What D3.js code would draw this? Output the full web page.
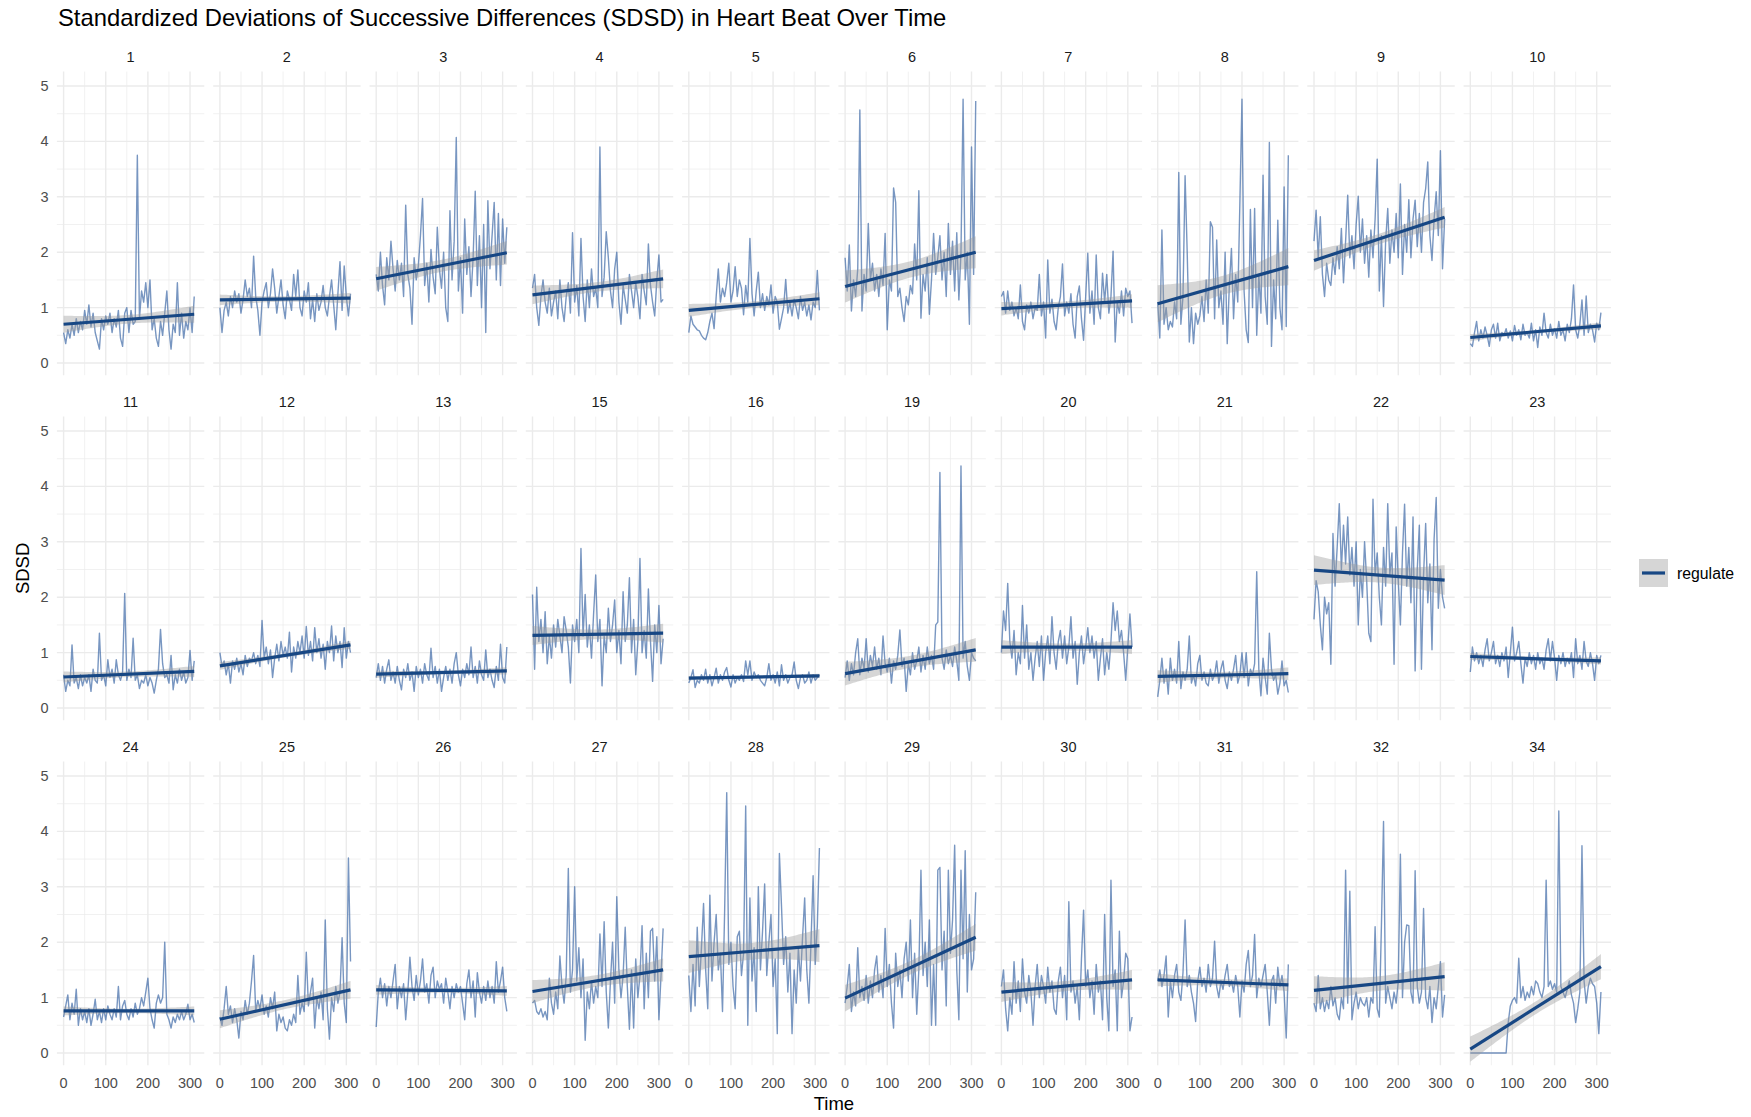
<!DOCTYPE html>
<html>
<head>
<meta charset="utf-8">
<script src="https://cdn.jsdelivr.net/npm/d3@7"></script>
<style>
  body { margin: 0; background: #fff; }
  svg { display: block; }
  text { font-family: "Liberation Sans", Arial, Helvetica, sans-serif; }
</style>
</head>
<body>
<svg id="chart" width="1751" height="1117"></svg>
<script>
// Participants shown as facets, in reading order
const participants = [1, 2, 3, 4, 5, 6, 7, 8, 9, 10, 11, 12, 13, 15, 16, 19, 20, 21, 22, 23, 24, 25, 26, 27, 28, 29, 30, 31, 32, 34];

// Sampling times (s)
const time = [0,5,10,15,20,25,30,35,40,45,50,55,60,65,70,75,80,85,90,95,100,105,110,115,120,125,130,135,140,145,150,155,160,165,170,175,180,185,190,195,200,205,210,215,220,225,230,235,240,245,250,255,260,265,270,275,280,285,290,295,300,305,310];

// SDSD per participant
const sdsd1 = [0.55,0.35,0.6,0.45,0.7,0.5,0.8,0.55,0.75,0.6,0.95,0.7,1.05,0.65,0.9,0.55,0.4,0.25,0.8,0.6,0.85,0.7,0.9,0.55,0.8,0.65,0.95,0.45,0.3,0.9,1.0,0.55,0.95,0.7,0.75,3.75,0.8,1.3,1.1,1.45,1.0,1.5,0.6,0.8,0.45,0.3,0.75,0.5,0.9,1.3,0.6,0.25,0.7,0.55,1.45,0.5,0.9,0.45,0.75,0.6,1.0,0.55,1.2];
const sdsd2 = [1.0,0.55,0.95,1.1,0.85,1.2,1.0,1.3,1.1,1.25,0.9,1.15,1.5,1.2,1.35,1.0,1.93,1.2,0.95,0.5,1.1,1.3,1.45,1.0,1.25,1.7,1.35,0.9,1.2,1.5,1.05,0.8,1.3,1.15,0.95,1.6,1.2,1.68,1.0,0.85,1.3,1.1,1.45,0.8,1.15,0.75,1.25,0.95,1.1,1.4,1.0,0.85,1.2,1.5,1.05,0.6,1.25,1.83,0.95,1.75,1.2,0.85,1.25];
const sdsd3 = [1.6,1.3,2.0,1.4,1.05,1.9,1.5,2.2,1.7,1.3,1.85,1.5,1.8,1.2,2.85,1.6,1.35,0.7,1.9,1.5,1.75,2.3,2.97,1.4,1.8,1.1,2.05,1.55,1.25,2.45,1.7,1.35,2.0,1.0,0.75,2.75,1.5,2.2,4.07,1.3,1.9,0.9,2.6,1.6,2.1,1.2,1.9,3.1,1.4,2.3,1.0,2.5,0.55,2.93,1.7,2.3,2.9,1.5,2.7,1.4,2.6,1.8,2.45];
const sdsd4 = [1.35,1.6,1.0,0.68,1.2,1.5,1.1,0.9,1.35,0.85,1.1,1.3,0.8,1.5,1.0,0.75,1.2,1.45,0.9,2.35,1.1,1.4,0.85,2.25,1.2,0.75,1.5,1.0,1.7,1.2,1.35,1.0,3.9,1.2,1.55,2.37,1.9,1.3,1.0,1.7,2.0,1.1,0.7,1.4,1.15,0.9,1.6,1.3,1.0,1.45,1.2,0.8,1.6,1.3,1.05,2.15,1.4,1.1,0.85,1.5,1.95,1.1,1.15];
const sdsd5 = [0.55,0.85,0.7,0.65,0.6,0.58,0.5,0.45,0.42,0.55,0.75,0.9,0.62,1.2,1.7,1.1,1.35,1.2,1.45,1.8,1.1,1.3,1.74,1.2,1.5,1.35,0.87,1.4,1.1,2.25,1.25,0.85,1.3,1.64,1.0,1.25,0.95,1.2,1.05,1.41,0.9,1.2,1.1,0.61,0.8,1.0,1.51,0.9,1.1,0.85,1.15,1.0,0.8,1.2,0.95,1.1,0.85,1.05,0.78,1.1,1.0,1.67,0.95];
const sdsd6 = [1.9,1.3,2.13,0.94,1.5,1.2,1.7,4.57,0.94,1.6,1.3,2.52,1.5,1.8,1.3,1.6,1.2,1.7,1.4,2.34,0.6,1.5,1.3,3.16,2.9,1.2,1.35,1.0,0.75,1.2,1.05,1.4,1.25,2.15,1.5,3.11,0.81,1.6,1.3,1.9,0.88,1.5,2.34,1.6,1.9,2.3,1.5,2.0,1.2,2.52,1.6,2.2,1.3,2.35,1.14,2.0,4.76,1.5,2.0,0.7,3.9,1.6,4.73];
const sdsd7 = [1.2,1.29,0.9,1.3,0.95,1.1,0.85,1.0,0.8,1.41,0.75,0.6,1.05,0.9,1.1,0.8,1.0,0.95,1.6,0.85,1.1,0.45,1.86,0.9,1.15,0.75,0.6,1.0,1.2,1.79,0.85,1.1,0.9,1.25,0.7,0.45,1.2,1.39,0.8,0.41,1.2,1.98,0.9,1.3,0.7,1.95,1.0,0.8,1.62,1.1,1.6,0.9,1.2,2.02,0.38,1.1,0.9,1.3,0.85,1.35,1.2,1.3,0.72];
const sdsd8 = [1.1,0.45,2.4,0.7,1.0,0.6,0.75,0.65,1.1,0.8,3.44,0.7,1.2,3.38,2.0,0.38,1.0,0.35,0.9,0.7,0.85,1.2,0.75,1.5,0.9,2.55,2.45,0.8,2.22,1.0,1.3,0.7,2.0,0.35,1.4,2.07,0.8,1.6,1.1,2.88,4.76,1.3,0.6,0.37,2.77,1.0,2.79,0.5,1.6,0.9,3.39,1.2,0.7,3.98,0.3,1.5,0.8,2.58,1.0,0.6,3.18,0.66,3.75];
const sdsd9 = [2.2,2.76,1.9,2.64,1.6,1.2,1.8,1.5,1.4,1.9,1.6,2.1,1.7,2.43,1.45,2.2,3.03,1.9,2.3,1.7,2.5,3.01,2.0,2.6,1.8,2.3,1.55,2.4,1.9,2.6,3.68,1.3,2.3,1.02,2.2,2.79,1.8,2.4,2.0,2.7,1.9,3.23,1.6,2.5,2.0,2.95,1.9,2.6,2.94,2.1,2.7,2.0,2.9,3.15,3.63,2.3,1.85,2.6,3.09,2.3,3.83,1.7,2.6];
const sdsd10 = [0.35,0.3,0.55,0.75,0.4,0.6,0.45,0.65,0.5,0.3,0.6,0.7,0.45,0.72,0.4,0.55,0.5,0.62,0.45,0.58,0.4,0.68,0.5,0.6,0.42,0.7,0.5,0.55,0.45,0.72,0.4,0.6,0.28,0.65,0.5,0.9,0.55,0.45,0.7,0.5,0.62,0.45,0.75,0.5,0.6,0.4,0.7,0.55,0.8,1.41,0.6,0.45,0.7,1.14,0.5,1.21,0.55,0.7,0.6,0.38,0.72,0.6,0.91];
const sdsd11 = [0.6,0.3,0.5,0.4,1.14,0.45,0.55,0.35,0.6,0.4,0.55,0.45,0.6,0.3,0.7,0.5,0.45,1.35,0.5,0.6,0.4,0.87,0.55,0.7,0.45,0.87,0.6,0.5,0.65,2.07,0.5,0.7,0.55,1.26,0.5,0.6,0.35,0.5,0.45,0.6,0.4,0.55,0.45,0.27,0.5,0.7,1.42,0.8,0.55,0.6,0.45,0.95,0.33,0.6,0.45,0.7,0.5,0.65,0.45,0.55,1.04,0.5,0.85];
const sdsd12 = [1.0,0.75,0.85,0.6,0.8,0.45,0.85,0.7,0.9,0.65,0.8,0.6,0.95,0.75,0.9,0.85,1.0,0.8,0.95,0.75,1.58,0.9,1.1,0.8,1.05,0.55,0.9,1.15,0.85,1.2,0.95,1.1,0.9,1.37,0.65,1.1,0.9,1.2,1.0,1.3,0.9,1.47,0.95,1.2,0.85,1.45,1.0,1.25,0.9,1.15,0.7,1.2,1.0,1.48,0.85,1.3,1.0,1.2,0.73,1.45,0.9,1.2,1.0];
const sdsd13 = [0.55,0.8,0.5,0.75,0.45,0.7,0.87,0.5,0.65,0.45,0.75,0.5,0.33,0.7,0.55,0.8,0.5,0.65,0.3,0.75,0.55,0.7,0.45,0.8,0.6,0.5,1.08,0.55,0.75,0.45,0.7,0.3,0.55,0.75,0.5,0.7,0.45,0.8,1.0,0.6,0.4,0.7,0.55,0.8,0.6,1.1,0.55,0.75,0.45,0.85,0.6,0.5,1.05,0.55,0.7,0.5,0.37,0.75,0.5,1.15,0.55,0.45,1.1];
const sdsd15 = [2.05,0.7,2.18,1.2,1.6,1.0,1.74,0.8,1.3,0.9,1.5,1.1,1.6,1.3,1.0,1.65,1.4,1.1,0.45,1.5,1.2,1.6,1.0,2.88,1.3,2.05,1.1,1.5,0.9,1.7,2.4,1.2,1.6,0.4,1.3,1.0,1.8,1.2,1.5,1.95,1.0,1.4,0.8,2.1,1.2,1.5,2.35,1.0,1.6,0.6,1.2,2.7,1.0,1.4,0.9,2.15,1.2,0.48,1.5,1.0,1.85,0.8,1.25];
const sdsd16 = [0.45,0.55,0.69,0.37,0.5,0.45,0.6,0.5,0.7,0.45,0.6,0.4,0.55,0.72,0.45,0.6,0.5,0.65,0.73,0.5,0.38,0.6,0.45,0.55,0.5,0.6,0.48,0.85,0.6,0.85,0.5,0.65,0.55,0.6,0.5,0.45,0.4,0.55,0.8,0.5,0.6,0.45,0.65,0.4,0.78,0.5,0.6,0.45,0.55,0.6,0.83,0.5,0.35,0.55,0.6,0.45,0.5,0.65,0.45,0.6,0.5,0.55,0.6];
const sdsd19 = [0.55,0.85,0.5,0.8,0.6,1.0,1.25,0.6,0.9,0.7,1.25,0.65,0.95,0.75,1.1,0.7,0.9,0.6,1.3,0.8,0.65,0.9,0.45,0.85,0.7,0.95,1.41,0.75,0.9,0.3,0.8,0.6,1.0,0.7,0.85,1.1,0.65,0.95,0.7,1.1,0.8,0.95,0.7,1.5,1.55,4.25,0.9,0.7,1.05,0.8,0.95,0.75,1.1,0.85,0.5,4.37,0.9,1.2,0.75,0.5,1.0,0.9,0.85];
const sdsd20 = [1.0,1.75,1.4,2.25,1.2,0.9,1.4,0.6,1.0,0.8,1.85,0.9,1.5,0.7,1.0,0.5,0.9,1.2,0.75,1.3,0.5,1.0,1.3,0.8,1.65,1.0,0.7,1.2,1.4,0.9,1.3,0.8,1.1,1.65,0.9,1.2,0.43,1.0,1.3,0.8,1.1,1.45,1.0,1.3,0.9,1.2,0.5,0.9,1.25,0.6,1.0,0.7,1.2,1.9,1.4,1.75,1.2,1.4,1.0,0.5,1.1,1.7,1.1];
const sdsd21 = [0.2,0.5,0.9,0.45,0.7,0.25,0.9,0.5,0.7,0.45,1.2,0.35,0.65,0.5,0.7,1.3,0.45,0.6,0.4,0.8,0.95,0.5,0.65,0.45,0.4,0.7,0.5,0.6,0.85,0.45,0.7,0.85,0.5,0.35,0.65,0.5,0.7,0.95,0.45,0.6,1.0,0.55,1.0,0.4,0.7,0.6,0.8,2.46,0.7,0.22,0.9,0.55,0.25,1.35,0.7,0.5,0.6,0.25,0.45,0.85,0.4,0.5,0.28];
const sdsd22 = [1.6,2.3,2.1,1.5,1.05,2.0,1.7,1.9,0.79,3.15,2.2,2.9,3.69,2.5,3.3,2.6,3.45,2.4,2.9,2.2,3.0,1.5,2.5,2.0,3.0,2.3,1.35,1.2,3.77,2.4,2.8,2.0,1.5,2.9,2.2,3.69,2.4,2.8,0.79,3.27,2.3,1.5,2.8,3.68,2.2,2.9,1.9,3.45,0.67,2.5,3.3,0.7,2.4,3.33,1.9,2.6,1.05,3.05,3.8,1.8,2.5,2.0,1.8];
const sdsd23 = [0.65,1.1,0.85,1.0,0.8,0.95,0.75,1.05,1.25,0.85,1.0,1.2,0.8,0.95,0.75,1.0,0.85,1.1,0.55,1.0,1.46,0.85,1.0,1.2,0.8,0.45,0.9,0.75,1.0,0.8,0.95,0.7,1.0,0.8,0.9,0.7,1.05,1.25,0.85,1.2,0.9,0.5,0.95,0.8,1.0,0.75,0.9,0.8,1.0,0.55,1.25,0.8,0.95,0.7,1.2,0.85,0.75,1.0,0.8,0.5,0.95,0.8,0.95];
const sdsd24 = [0.65,0.85,1.05,0.6,0.9,0.7,1.15,0.5,0.8,0.6,0.75,0.55,0.8,0.5,0.7,0.97,0.6,0.75,0.55,0.8,0.6,0.85,0.7,0.6,0.8,0.65,1.2,0.6,0.85,0.95,0.7,0.6,0.8,0.65,0.9,0.7,0.8,1.0,0.85,1.1,1.35,0.8,0.6,0.45,0.9,1.05,0.9,1.0,2.0,0.7,0.6,0.45,0.65,0.55,0.7,0.6,0.75,0.6,0.7,0.88,0.6,0.7,0.55];
const sdsd25 = [0.65,0.5,0.8,1.2,0.7,0.85,0.55,0.8,0.6,0.27,0.75,0.6,0.95,0.7,0.9,1.3,1.76,0.75,0.95,0.8,1.05,0.7,0.85,0.65,1.0,0.8,1.1,0.4,0.7,0.55,0.65,0.45,0.4,0.6,0.5,0.7,0.55,1.4,0.7,0.9,0.75,1.82,0.85,1.1,1.35,0.45,1.0,0.8,1.1,0.6,2.4,0.8,0.25,1.0,0.75,1.2,0.9,1.1,2.08,0.9,0.55,3.52,1.65];
const sdsd26 = [0.47,1.1,1.35,1.0,1.25,0.85,1.2,1.0,1.3,1.6,0.8,1.2,1.0,1.25,0.6,1.1,1.73,1.2,0.95,1.4,1.05,1.3,1.7,1.1,1.25,0.9,1.4,1.55,1.0,1.3,1.15,1.25,0.9,1.35,1.1,0.8,1.2,1.0,1.25,1.1,1.2,0.9,0.6,1.25,1.5,1.0,1.3,0.65,1.45,1.1,0.9,1.2,0.95,1.3,1.0,1.2,0.9,1.65,1.1,1.3,1.55,1.0,0.75];
const sdsd27 = [0.9,0.95,0.75,0.7,0.8,0.65,0.75,0.6,1.35,0.9,0.7,1.1,0.8,1.75,1.2,0.9,1.4,3.33,1.1,1.5,3.0,1.3,1.9,1.0,1.7,0.23,1.1,0.8,1.3,0.9,1.2,1.0,2.15,1.2,2.37,1.1,0.45,1.3,2.0,0.9,2.82,1.5,1.0,1.4,2.27,1.2,0.43,1.5,0.45,1.7,1.0,1.4,2.3,0.8,1.8,1.0,2.2,2.25,1.3,2.1,0.6,1.4,2.25];
const sdsd28 = [1.4,0.75,1.6,0.85,2.27,1.2,1.9,2.7,1.5,0.8,2.85,1.3,2.0,2.5,1.5,1.8,0.75,2.55,4.7,1.6,2.0,1.2,0.8,2.1,2.2,1.4,1.8,4.46,0.5,2.8,1.3,1.9,0.75,3.0,1.5,2.2,3.05,1.4,2.0,2.5,1.2,1.7,0.35,3.6,2.65,1.6,2.1,1.1,1.8,0.35,1.5,0.9,1.9,1.3,2.1,2.8,1.5,0.9,2.0,3.2,1.6,2.3,3.7];
const sdsd29 = [0.9,1.2,1.6,0.75,1.1,0.85,1.9,1.0,1.2,0.95,1.4,0.9,1.3,1.0,1.5,1.75,1.1,1.4,1.0,2.25,1.2,1.6,0.9,0.45,1.8,1.2,1.5,1.0,1.7,2.0,1.3,2.4,1.0,1.8,0.7,1.5,3.3,1.4,2.0,1.2,2.4,0.5,1.6,0.5,3.3,3.35,1.5,2.2,0.85,3.3,1.8,2.4,3.75,1.5,0.6,3.3,1.7,3.65,1.1,2.5,1.5,1.7,2.9];
const sdsd30 = [1.2,1.5,0.8,0.4,1.0,0.7,1.65,0.9,1.3,0.75,1.7,1.1,0.9,1.4,1.1,0.5,1.2,1.6,1.0,1.4,1.2,0.9,1.55,1.1,1.3,0.8,0.7,1.3,1.55,1.0,1.4,0.6,2.73,1.1,1.3,0.9,1.2,0.6,1.7,2.58,1.2,1.5,1.0,1.3,0.7,1.6,1.1,1.3,0.6,2.5,1.0,0.4,3.12,1.2,1.5,0.4,2.2,1.0,1.3,1.8,1.7,0.4,0.65];
const sdsd31 = [1.3,1.5,1.2,1.4,1.75,0.65,1.3,1.0,1.4,1.6,1.1,0.95,1.45,2.4,1.2,1.4,1.1,0.9,0.57,1.3,1.55,1.2,1.35,1.1,1.6,1.2,1.35,2.02,1.2,1.0,1.3,1.15,1.4,1.6,1.2,1.3,1.1,1.4,1.2,0.65,1.3,1.1,1.6,1.85,1.2,1.4,2.14,1.0,1.35,1.2,1.4,1.6,1.1,0.5,1.3,1.4,0.9,1.55,1.2,1.4,1.1,0.27,1.6];
const sdsd32 = [0.9,0.75,1.4,0.8,1.0,0.75,0.95,0.8,1.2,0.85,1.0,0.7,0.6,1.0,0.8,3.3,0.9,2.92,0.6,0.9,1.1,0.8,1.0,0.9,0.85,1.0,0.65,1.0,0.9,2.28,0.8,0.65,2.3,4.18,0.9,1.2,1.0,0.8,1.1,0.9,1.3,3.59,1.0,2.0,2.31,2.3,1.1,0.9,3.29,1.2,0.9,1.1,2.61,1.0,0.8,1.2,0.55,1.0,0.8,1.2,1.65,0.65,1.05];
const sdsd34 = [0,0,0,0,0,0,0,0,0,0,0,0,0,0,0,0,0,0,0.55,0.85,0.95,1.0,0.9,1.71,1.0,1.2,0.95,1.1,1.0,1.2,1.05,1.3,1.25,1.1,1.0,1.2,3.12,1.2,1.3,1.15,1.25,1.1,4.37,1.2,1.1,1.0,1.15,1.3,1.05,0.9,0.55,0.8,1.1,3.74,1.3,0.9,1.2,1.35,1.25,1.2,0.9,0.35,1.1];

const seriesByPanel = [sdsd1, sdsd2, sdsd3, sdsd4, sdsd5, sdsd6, sdsd7, sdsd8, sdsd9, sdsd10,
  sdsd11, sdsd12, sdsd13, sdsd15, sdsd16, sdsd19, sdsd20, sdsd21, sdsd22, sdsd23,
  sdsd24, sdsd25, sdsd26, sdsd27, sdsd28, sdsd29, sdsd30, sdsd31, sdsd32, sdsd34];

// Linear trend per participant: fitted SDSD at the first and last time point
const fitStart = [0.70, 1.14, 1.52, 1.23, 0.95, 1.38, 0.98, 1.07, 1.85, 0.46,
  0.56, 0.76, 0.61, 1.31, 0.54, 0.62, 1.10, 0.57, 2.49, 0.93,
  0.76, 0.61, 1.14, 1.11, 1.74, 0.99, 1.10, 1.32, 1.13, 0.07];
const fitEnd = [0.88, 1.17, 1.99, 1.52, 1.16, 2.00, 1.12, 1.74, 2.63, 0.67,
  0.66, 1.14, 0.67, 1.35, 0.58, 1.05, 1.10, 0.62, 2.31, 0.85,
  0.76, 1.14, 1.12, 1.50, 1.94, 2.09, 1.32, 1.23, 1.38, 1.56];

const xTicks = [0, 100, 200, 300];
const xMinor = [50, 150, 250];
const yTicks = [0, 1, 2, 3, 4, 5];
const yMinor = [0.5, 1.5, 2.5, 3.5, 4.5];
const groupLabel = "regulate";

// ---- layout ----
const nCols = 10;
const left0 = 56.9, top0 = 71.6;
const panelW = 147.4, panelH = 303.6;
const colStep = 156.3, rowStep = 345;
const bandZ = 1.3;   // band half-width in standard errors

const lineColor = "#3e6aa6";
const fitColor = "#174784";
const gridColor = "#ebebeb";

const x = d3.scaleLinear().domain([-15.9, 333.9]).range([0, panelW]);
const y = d3.scaleLinear().domain([-0.22, 5.26]).range([panelH, 0]);

const svg = d3.select("#chart");
svg.append("rect").attr("width", 1751).attr("height", 1117).attr("fill", "#fff");

const tLast = time[time.length - 1];
const nRows = Math.ceil(participants.length / nCols);

participants.forEach((pid, i) => {
  const col = i % nCols, row = Math.floor(i / nCols);
  const g = svg.append("g")
    .attr("transform", `translate(${left0 + col * colStep},${top0 + row * rowStep})`);

  // grid
  g.selectAll(".ymn").data(yMinor).join("line")
    .attr("x1", 0).attr("x2", panelW).attr("y1", d => y(d)).attr("y2", d => y(d))
    .attr("stroke", gridColor).attr("stroke-width", 0.7);
  g.selectAll(".xmn").data(xMinor).join("line")
    .attr("y1", 0).attr("y2", panelH).attr("x1", d => x(d)).attr("x2", d => x(d))
    .attr("stroke", gridColor).attr("stroke-width", 0.7);
  g.selectAll(".ymj").data(yTicks).join("line")
    .attr("x1", 0).attr("x2", panelW).attr("y1", d => y(d)).attr("y2", d => y(d))
    .attr("stroke", gridColor).attr("stroke-width", 1.4);
  g.selectAll(".xmj").data(xTicks).join("line")
    .attr("y1", 0).attr("y2", panelH).attr("x1", d => x(d)).attr("x2", d => x(d))
    .attr("stroke", gridColor).attr("stroke-width", 1.4);

  // strip label
  g.append("text")
    .attr("x", panelW / 2).attr("y", -15)
    .attr("text-anchor", "middle").attr("dominant-baseline", "central")
    .attr("font-size", 14.5).attr("fill", "#1a1a1a")
    .text(pid);

  // raw series
  const vals = seriesByPanel[i];
  const pts = vals.slice(0, time.length).map((v, k) => [time[k], v]);
  g.append("path").datum(pts)
    .attr("d", d3.line().x(d => x(d[0])).y(d => y(d[1])))
    .attr("fill", "none").attr("stroke", lineColor)
    .attr("stroke-opacity", 0.7).attr("stroke-width", 1.4)
    .attr("stroke-linejoin", "round");

  // linear trend with confidence band
  const a = fitStart[i], b = fitEnd[i];
  const fit = t => a + (b - a) * t / tLast;
  const n = pts.length;
  const tbar = d3.mean(pts, d => d[0]);
  const sxx = d3.sum(pts, d => (d[0] - tbar) ** 2);
  const s = Math.sqrt(d3.sum(pts, d => (d[1] - fit(d[0])) ** 2) / (n - 2));
  const bandPts = time.map(t => {
    const se = s * Math.sqrt(1 / n + (t - tbar) ** 2 / sxx);
    return [t, fit(t) - bandZ * se, fit(t) + bandZ * se];
  });
  g.append("path").datum(bandPts)
    .attr("d", d3.area().x(d => x(d[0])).y0(d => y(d[1])).y1(d => y(d[2])))
    .attr("fill", "#999999").attr("fill-opacity", 0.4);
  g.append("path").datum([0, tLast])
    .attr("d", d3.line().x(t => x(t)).y(t => y(fit(t))))
    .attr("fill", "none").attr("stroke", fitColor).attr("stroke-width", 3.2)
    .attr("stroke-linecap", "butt");

  // y axis labels on the first column
  if (col === 0) {
    g.selectAll(".ytl").data(yTicks).join("text")
      .attr("x", -8.4).attr("y", d => y(d))
      .attr("text-anchor", "end").attr("dominant-baseline", "central")
      .attr("font-size", 14.5).attr("fill", "#4d4d4d")
      .text(d => d);
  }
  // x axis labels on the bottom row
  if (row === nRows - 1) {
    g.selectAll(".xtl").data(xTicks).join("text")
      .attr("x", d => x(d)).attr("y", panelH + 18)
      .attr("text-anchor", "middle").attr("dominant-baseline", "central")
      .attr("font-size", 14.5).attr("fill", "#4d4d4d")
      .text(d => d);
  }
});

// title
svg.append("text")
  .attr("x", 58).attr("y", 26)
  .attr("font-size", 23.8).attr("fill", "#000")
  .text("Standardized Deviations of Successive Differences (SDSD) in Heart Beat Over Time");

// axis titles
const panelsRight = left0 + (nCols - 1) * colStep + panelW;
svg.append("text")
  .attr("x", (left0 + panelsRight) / 2).attr("y", 1110)
  .attr("text-anchor", "middle").attr("font-size", 18.5).attr("fill", "#000")
  .text("Time");
const panelsBottom = top0 + (nRows - 1) * rowStep + panelH;
svg.append("text")
  .attr("transform", `translate(29,${(top0 + panelsBottom) / 2}) rotate(-90)`)
  .attr("text-anchor", "middle").attr("font-size", 18.5).attr("fill", "#000")
  .text("SDSD");

// legend
const lg = svg.append("g").attr("transform", "translate(1639,559)");
lg.append("rect").attr("width", 29).attr("height", 28)
  .attr("fill", "#999999").attr("fill-opacity", 0.4);
lg.append("line").attr("x1", 3).attr("x2", 26).attr("y1", 14).attr("y2", 14)
  .attr("stroke", fitColor).attr("stroke-width", 3.2);
lg.append("text").attr("x", 38).attr("y", 14)
  .attr("dominant-baseline", "central").attr("font-size", 15.8).attr("fill", "#000")
  .text(groupLabel);
</script>
</body>
</html>
